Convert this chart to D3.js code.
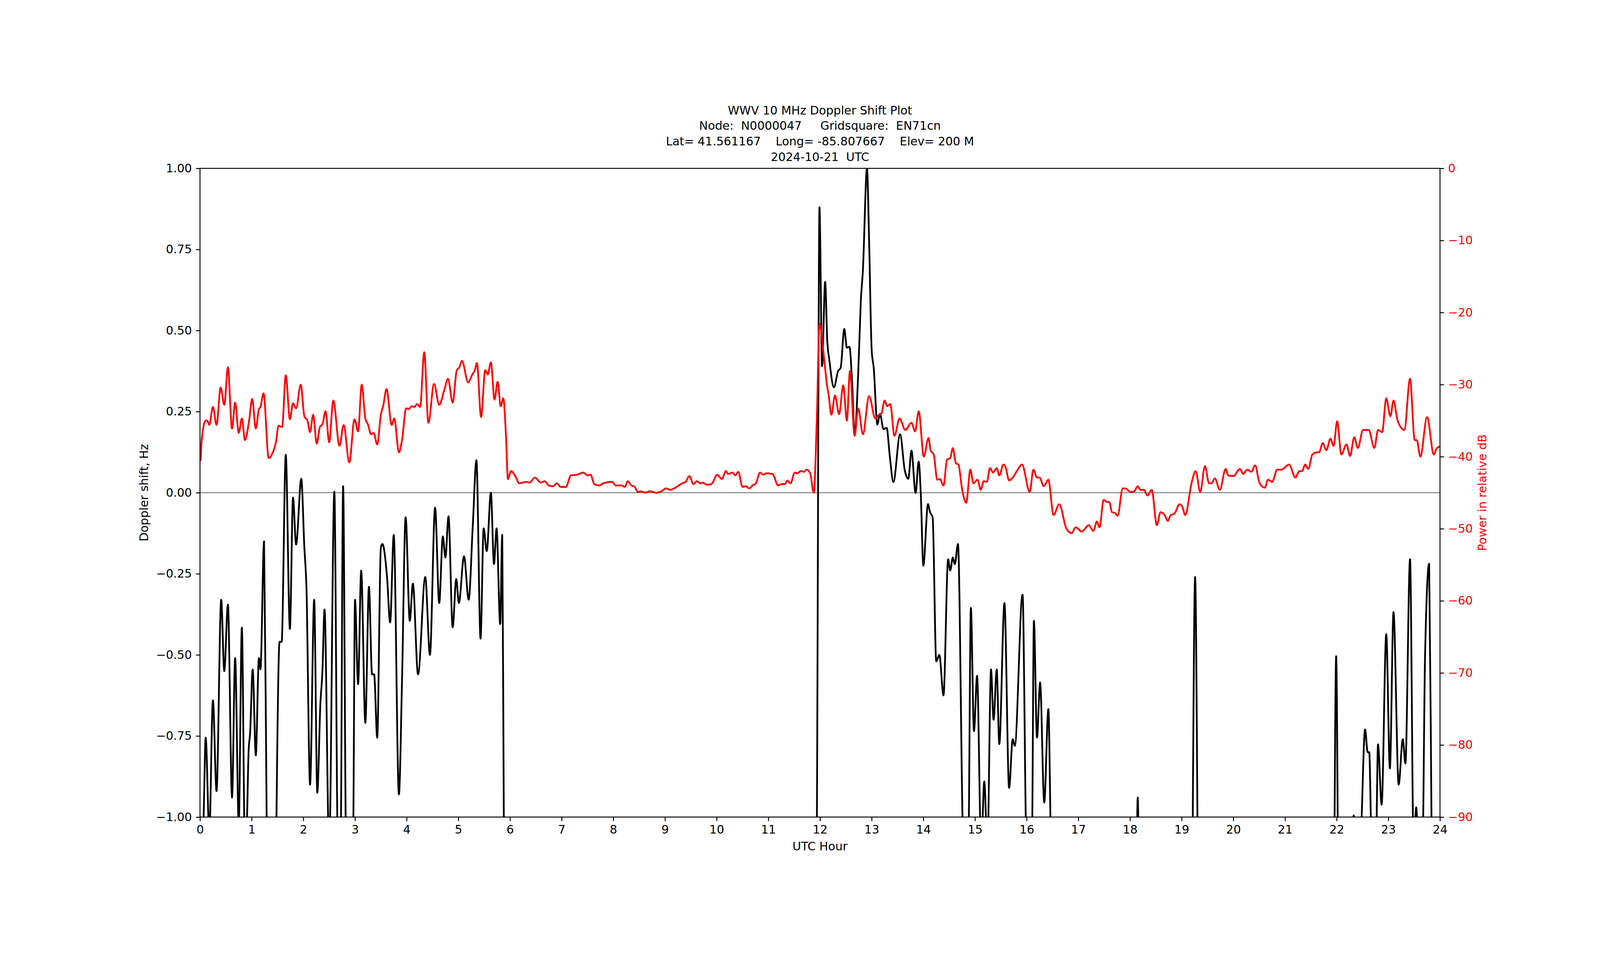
<!DOCTYPE html>
<html><head><meta charset="utf-8">
<script src="https://cdn.jsdelivr.net/npm/d3@7"></script>
<style>html,body{margin:0;padding:0;background:#fff;overflow:hidden;width:100vw;height:100vh}svg{display:block;width:100vw;height:100vh}text{font-family:"DejaVu Sans",sans-serif}</style>
</head><body>
<script>
const titleLines = ["WWV 10 MHz Doppler Shift Plot","Node:  N0000047     Gridsquare:  EN71cn","Lat= 41.561167    Long= -85.807667    Elev= 200 M","2024-10-21  UTC"];
const xTicks = d3.range(0,25,1);
const leftTicks = [-1,-0.75,-0.5,-0.25,0,0.25,0.5,0.75,1];
const rightTicks = [0,-10,-20,-30,-40,-50,-60,-70,-80,-90];
// Doppler shift (Hz), values below -1 are off-scale
const dopHour = [0,0.05,0.07,0.11,0.18,0.25,0.32,0.41,0.47,0.54,0.62,0.68,0.75,0.81,0.87,0.91,0.94,0.97,1.02,1.08,1.14,1.17,1.24,1.29,1.35,1.45,1.48,1.54,1.58,1.66,1.74,1.80,1.86,1.96,2.02,2.06,2.13,2.21,2.27,2.33,2.37,2.41,2.50,2.60,2.67,2.72,2.77,2.83,2.96,3.00,3.06,3.12,3.20,3.27,3.33,3.37,3.43,3.50,3.53,3.62,3.68,3.75,3.85,3.91,3.98,4.06,4.12,4.22,4.36,4.45,4.55,4.63,4.70,4.75,4.81,4.89,4.96,5.01,5.11,5.20,5.28,5.35,5.43,5.49,5.55,5.63,5.69,5.74,5.81,5.85,5.88,5.92,11.92,11.94,11.99,12.04,12.10,12.14,12.18,12.27,12.35,12.40,12.47,12.52,12.57,12.62,12.67,12.74,12.79,12.83,12.91,12.95,13.00,13.04,13.11,13.16,13.23,13.29,13.35,13.42,13.55,13.64,13.71,13.77,13.85,13.91,13.95,14.00,14.09,14.13,14.18,14.25,14.31,14.39,14.48,14.52,14.57,14.61,14.67,14.78,14.87,14.92,14.98,15.04,15.12,15.18,15.24,15.31,15.36,15.42,15.47,15.57,15.66,15.73,15.77,15.92,16.00,16.10,16.14,16.20,16.26,16.34,16.42,16.47,16.55,18.10,18.15,18.20,19.18,19.26,19.34,21.93,21.99,22.05,22.30,22.33,22.36,22.45,22.55,22.60,22.63,22.68,22.76,22.80,22.87,22.96,23.03,23.10,23.20,23.28,23.33,23.42,23.49,23.54,23.58,23.66,23.71,23.79,23.84,23.90,24];
const dopVal = [-1.4,-1.1,-1.0,-0.755,-1.05,-0.64,-0.92,-0.33,-0.55,-0.345,-0.94,-0.51,-1.02,-0.416,-1.1,-1.0,-0.8,-0.74,-0.545,-0.81,-0.51,-0.545,-0.15,-1.0,-1.5,-1.5,-1.0,-0.46,-0.46,0.117,-0.42,-0.015,-0.16,0.043,-0.17,-0.29,-0.90,-0.33,-0.925,-0.65,-0.55,-0.36,-1.1,0.003,-1.1,-1.1,0.02,-1.1,-1.1,-0.33,-0.59,-0.24,-0.71,-0.29,-0.56,-0.56,-0.755,-0.17,-0.158,-0.26,-0.40,-0.13,-0.93,-0.58,-0.076,-0.395,-0.28,-0.56,-0.26,-0.50,-0.046,-0.34,-0.135,-0.20,-0.073,-0.415,-0.266,-0.34,-0.196,-0.33,-0.10,0.10,-0.45,-0.11,-0.18,0.0,-0.22,-0.11,-0.405,-0.13,-1.0,-1.5,-1.5,-1.0,0.88,0.39,0.65,0.47,0.41,0.325,0.375,0.385,0.505,0.447,0.45,0.345,0.18,0.37,0.59,0.685,1.0,0.78,0.44,0.385,0.21,0.243,0.196,0.20,0.114,0.033,0.18,0.07,0.043,0.13,-0.001,0.096,0.0,-0.225,-0.035,-0.06,-0.076,-0.52,-0.50,-0.625,-0.205,-0.24,-0.20,-0.22,-0.158,-1.1,-1.1,-0.355,-0.735,-0.565,-1.1,-0.89,-1.1,-0.545,-0.70,-0.545,-0.775,-0.34,-0.91,-0.76,-0.78,-0.314,-1.1,-1.1,-0.395,-0.755,-0.585,-0.955,-0.667,-1.1,-1.5,-1.5,-0.94,-1.5,-1.5,-0.26,-1.5,-1.5,-0.504,-1.5,-1.05,-0.995,-1.05,-1.1,-0.73,-0.80,-0.80,-1.1,-1.1,-0.776,-0.962,-0.436,-0.85,-0.368,-0.90,-0.76,-0.835,-0.205,-1.1,-0.97,-1.1,-1.1,-0.51,-0.219,-1.1,-1.5,-1.5];
// Received power (dB)
const pwrHour = [0,0.01,0.03,0.11,0.14,0.18,0.25,0.32,0.40,0.47,0.54,0.62,0.68,0.75,0.81,0.87,0.95,1.01,1.08,1.14,1.17,1.23,1.33,1.41,1.47,1.52,1.59,1.66,1.74,1.80,1.86,1.95,2.02,2.08,2.13,2.19,2.26,2.32,2.37,2.43,2.50,2.58,2.70,2.78,2.89,2.99,3.06,3.13,3.20,3.25,3.31,3.36,3.43,3.50,3.55,3.61,3.71,3.76,3.85,3.91,3.99,4.04,4.10,4.15,4.20,4.26,4.34,4.42,4.53,4.63,4.73,4.80,4.89,4.97,5.02,5.07,5.19,5.27,5.32,5.36,5.44,5.52,5.57,5.63,5.70,5.76,5.82,5.87,5.92,5.96,6.02,6.11,6.18,6.32,6.38,6.48,6.60,6.67,6.75,6.83,6.91,6.98,7.08,7.18,7.30,7.42,7.50,7.56,7.63,7.73,7.80,7.97,8.05,8.17,8.22,8.28,8.35,8.40,8.48,8.53,8.62,8.70,8.83,8.93,9.02,9.10,9.20,9.33,9.40,9.47,9.55,9.62,9.68,9.73,9.82,9.90,10.01,10.10,10.18,10.22,10.31,10.36,10.42,10.50,10.57,10.63,10.71,10.75,10.84,10.90,10.96,11.08,11.19,11.25,11.32,11.37,11.43,11.51,11.56,11.63,11.69,11.74,11.81,11.88,11.94,11.99,12.08,12.13,12.17,12.22,12.29,12.37,12.45,12.52,12.58,12.67,12.74,12.83,12.95,13.07,13.14,13.19,13.25,13.30,13.36,13.44,13.54,13.65,13.77,13.84,13.91,14.01,14.10,14.14,14.20,14.27,14.32,14.39,14.46,14.52,14.57,14.63,14.68,14.75,14.83,14.91,14.97,15.05,15.11,15.17,15.23,15.29,15.35,15.42,15.47,15.55,15.59,15.66,15.73,15.81,15.91,16.06,16.13,16.20,16.25,16.33,16.42,16.52,16.63,16.77,16.87,16.95,17.07,17.20,17.29,17.36,17.41,17.49,17.56,17.60,17.65,17.71,17.76,17.86,17.91,18.01,18.08,18.15,18.20,18.27,18.34,18.42,18.52,18.59,18.67,18.73,18.79,18.86,18.96,19.01,19.07,19.19,19.27,19.36,19.45,19.53,19.58,19.64,19.74,19.85,19.90,20.00,20.13,20.19,20.27,20.35,20.42,20.51,20.61,20.67,20.75,20.85,20.93,21.08,21.20,21.28,21.33,21.39,21.45,21.53,21.61,21.66,21.73,21.80,21.88,21.94,22.01,22.09,22.19,22.26,22.34,22.41,22.51,22.62,22.73,22.80,22.88,22.96,23.04,23.10,23.18,23.31,23.42,23.51,23.55,23.62,23.75,23.88,23.94,24.0];
const pwrVal = [-40.5,-40.5,-38.0,-35.0,-35.0,-35.6,-33.1,-35.6,-30.4,-32.8,-27.6,-36.1,-32.5,-36.7,-34.7,-37.7,-35.0,-32.0,-36.1,-33.4,-33.1,-31.2,-40.2,-39.4,-38.0,-35.7,-35.9,-28.7,-34.8,-32.6,-33.3,-30.0,-34.4,-35.0,-36.6,-34.2,-38.2,-35.9,-35.5,-33.7,-38.0,-32.2,-38.5,-35.6,-40.8,-34.8,-36.5,-30.0,-34.7,-35.5,-36.9,-36.7,-38.3,-34.2,-32.8,-30.6,-35.6,-34.7,-39.4,-37.7,-33.3,-33.4,-33.0,-33.1,-32.7,-33.1,-25.5,-35.3,-29.9,-32.8,-30.7,-29.2,-32.5,-28.0,-27.6,-26.7,-29.7,-28.6,-28.0,-27.0,-34.5,-28.0,-28.6,-26.9,-32.1,-29.6,-33.0,-31.9,-36.8,-43.1,-42.0,-42.8,-43.7,-43.5,-43.6,-42.9,-43.6,-43.4,-44.0,-44.1,-43.7,-44.2,-44.2,-42.6,-42.5,-42.2,-42.6,-42.5,-43.8,-44.0,-43.7,-43.5,-44.0,-44.0,-44.2,-43.4,-44.0,-44.1,-44.9,-44.8,-45.0,-44.8,-45.0,-44.8,-44.4,-44.6,-44.3,-43.7,-43.5,-42.7,-43.8,-43.4,-43.7,-43.6,-43.9,-43.8,-42.5,-43.1,-42.0,-42.4,-42.2,-42.6,-42.1,-44.2,-44.1,-44.4,-43.9,-43.8,-42.2,-42.5,-42.3,-42.4,-44.0,-43.8,-43.8,-43.3,-43.7,-42.2,-42.3,-42.0,-42.1,-41.8,-42.3,-45.0,-34.4,-21.6,-26.4,-29.8,-31.6,-34.2,-31.5,-34.1,-30.1,-35.0,-28.1,-37.1,-33.3,-36.9,-31.6,-34.7,-34.2,-34.0,-32.2,-33.0,-32.7,-37.1,-34.7,-36.3,-35.3,-36.5,-33.7,-40.0,-37.4,-39.1,-39.7,-43.2,-43.1,-44.0,-40.4,-40.2,-38.8,-40.9,-41.1,-44.5,-46.4,-41.8,-43.7,-43.2,-44.6,-43.4,-43.5,-41.6,-42.2,-41.6,-42.6,-41.1,-41.4,-43.3,-42.9,-42.0,-41.1,-44.9,-41.8,-42.9,-42.9,-44.1,-43.2,-48.1,-46.6,-50.0,-50.6,-49.8,-50.4,-49.5,-50.3,-49.0,-49.8,-46.0,-46.3,-46.3,-47.7,-47.8,-48.2,-44.4,-44.4,-44.9,-44.8,-44.1,-44.6,-44.6,-45.4,-44.6,-49.5,-47.7,-48.1,-48.9,-48.1,-47.9,-46.6,-46.9,-48.1,-43.7,-42.0,-44.9,-41.3,-43.7,-43.7,-43.0,-44.6,-41.7,-42.6,-42.7,-41.7,-42.4,-41.8,-42.1,-41.2,-43.7,-44.3,-43.2,-43.5,-41.8,-41.8,-41.1,-42.9,-42.0,-42.0,-41.1,-41.7,-39.7,-39.4,-39.4,-38.1,-39.1,-37.5,-38.5,-35.1,-39.7,-38.3,-39.9,-37.3,-38.8,-36.3,-36.3,-38.8,-36.3,-36.6,-31.9,-34.4,-32.2,-35.0,-36.3,-29.2,-37.7,-37.7,-40.0,-34.5,-39.7,-38.8,-38.6];

const W=4750,H=2500, L=593.75, R=4275, T=300, B=2225;
const FS=34.7;
const svg=d3.select("body").append("svg").attr("viewBox",`0 0 ${W} ${H}`).attr("preserveAspectRatio","xMidYMid meet");
const x=d3.scaleLinear().domain([0,24]).range([L,R]);
const yL=d3.scaleLinear().domain([-1,1]).range([B,T]);
const yR=d3.scaleLinear().domain([-90,0]).range([B,T]);
svg.append("clipPath").attr("id","c").append("rect").attr("x",L).attr("y",T).attr("width",R-L).attr("height",B-T);
const g=svg.append("g").attr("clip-path","url(#c)");
g.append("line").attr("x1",L).attr("x2",R).attr("y1",yL(0)).attr("y2",yL(0)).attr("stroke","#808080").attr("stroke-width",2.8);
const dop=dopHour.map((h,i)=>[h,dopVal[i]]);
const pwr=pwrHour.map((h,i)=>[h,pwrVal[i]]);
g.append("path").attr("d",d3.line().x(d=>x(d[0])).y(d=>yL(d[1])).curve(d3.curveMonotoneX)(dop)).attr("fill","none").attr("stroke","#000").attr("stroke-width",5.2).attr("stroke-linejoin","round");
g.append("path").attr("d",d3.line().x(d=>x(d[0])).y(d=>yR(d[1])).curve(d3.curveMonotoneX)(pwr)).attr("fill","none").attr("stroke","#f00").attr("stroke-width",5.2).attr("stroke-linejoin","round");
function style(sel,col){sel.selectAll("path.domain").remove();sel.selectAll("line").attr("stroke","#000").attr("stroke-width",2.8);sel.selectAll("text").attr("font-size",FS).attr("fill",col).attr("font-family","DejaVu Sans");}
const fmt=d=>d3.format(".2f")(d).replace("-","\u2212");
style(svg.append("g").attr("transform",`translate(0,${B})`).call(d3.axisBottom(x).tickValues(xTicks).tickFormat(d=>d).tickSizeOuter(0).tickSize(12).tickPadding(12)),"#000");
style(svg.append("g").attr("transform",`translate(${L},0)`).call(d3.axisLeft(yL).tickValues(leftTicks).tickFormat(fmt).tickSize(12).tickPadding(12)),"#000");
style(svg.append("g").attr("transform",`translate(${R},0)`).call(d3.axisRight(yR).tickValues(rightTicks).tickFormat(d=>String(d).replace("-","\u2212")).tickSize(12).tickPadding(12)),"#f00");
svg.append("rect").attr("x",L).attr("y",T).attr("width",R-L).attr("height",B-T).attr("fill","none").attr("stroke","#000").attr("stroke-width",2.8);
const cx=(L+R)/2;
titleLines.forEach((t,i)=>svg.append("text").attr("x",cx).attr("y",140+i*46).attr("text-anchor","middle").attr("font-size",FS).attr("xml:space","preserve").style("white-space","pre").text(t));
svg.append("text").attr("x",cx).attr("y",2324).attr("text-anchor","middle").attr("font-size",FS).text("UTC Hour");
svg.append("text").attr("transform",`translate(440,${(T+B)/2}) rotate(-90)`).attr("text-anchor","middle").attr("font-size",FS).text("Doppler shift, Hz");
svg.append("text").attr("transform",`translate(4413,${(T+B)/2}) rotate(-90)`).attr("text-anchor","middle").attr("font-size",FS).attr("fill","#f00").text("Power in relative dB");
</script></body></html>
